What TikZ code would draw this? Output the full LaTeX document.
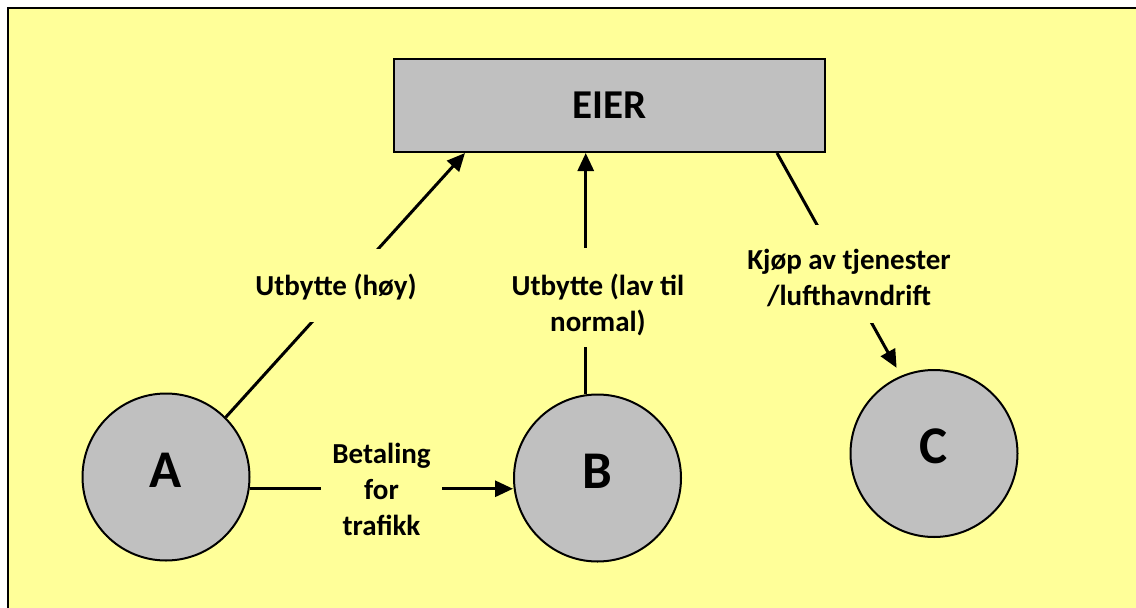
\documentclass[tikz,border=0pt]{standalone}
\usepackage{fontspec}
\setmainfont{Carlito}
\usetikzlibrary{arrows.meta,calc}
\definecolor{bgyellow}{RGB}{255,255,153}
\definecolor{boxgray}{RGB}{192,192,192}
\begin{document}
\begin{tikzpicture}[x=1pt,y=-1pt,
 conn/.style={line width=3pt},
 arr/.style={conn,-{Triangle[length=18pt,width=16pt]}},
 party/.style={circle,draw,line width=2pt,fill=boxgray,minimum size=167pt,inner sep=0pt,font=\fontsize{53}{60}\selectfont\bfseries,text depth=14pt},
 owner/.style={rectangle,draw,line width=2pt,fill=boxgray,minimum width=431pt,minimum height=93pt,inner sep=0pt,font=\fontsize{41}{48}\selectfont\bfseries},
 lbl/.style={fill=bgyellow,inner sep=0pt,align=center,font=\fontsize{29}{36}\selectfont\bfseries}]
\clip (0,0) rectangle (1136,608);
\draw[line width=2pt, fill=bgyellow] (8,8) rectangle (1200,700);
\node[owner] (EIER) at (609.5,105.5) {EIER};
\node[party] (A) at (166,477) {A};
\node[party] (B) at (597.5,478) {B};
\node[party] (C) at (934,453.5) {C};
% connectors
\draw[arr] (A.45) -- ($(EIER.south west)+(72,0)$);
\draw[arr] (B.98) -- (B.98 |- EIER.south);
\draw[arr, shorten >=9pt] ($(EIER.south east)+(-49,0)$) -- (C.113);
\draw[arr] (A.-8) -- (A.-8 -| B.west);
% labels
\node[lbl, anchor=north, text height=46pt, text depth=27pt] (lA) at (336,249) {Utbytte (høy)};
\node[lbl, anchor=north, text height=83pt, text depth=16pt] (lB) at (598,248) {Utbytte (lav til\\normal)};
\node[lbl, anchor=north, text height=80pt, text depth=18pt] (lC) at (849,225) {Kjøp av tjenester\\/lufthavndrift};
\node[lbl, anchor=north, text height=93pt, minimum width=121pt] (lAB) at (381.5,442) {Betaling\\for\\trafikk};
\end{tikzpicture}
\end{document}
